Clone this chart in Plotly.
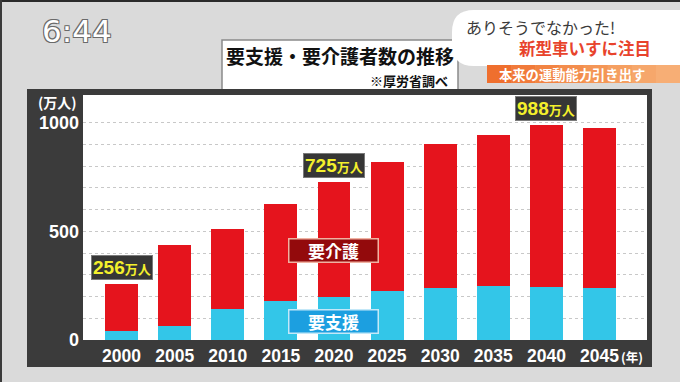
import plotly.graph_objects as go

# ---------------- data ----------------
years = [2000, 2005, 2010, 2015, 2020, 2025, 2030, 2035, 2040, 2045]
shien = [40, 64, 143, 181, 196, 225, 239, 250, 245, 239]          # 要支援
total = [256, 439, 509, 626, 725, 818, 902, 945, 988, 976]         # 合計
kaigo = [t - s for t, s in zip(total, shien)]                      # 要介護
labeled_years = [2000, 2020, 2040]
labeled_totals = [256, 725, 988]
y_gridvals = list(range(0, 1001, 100))
y_labelvals = [0, 500, 1000]

# ---------------- helpers ----------------
W, H = 680, 382
def px(x):
    return x / W
def py(y):
    return 1 - y / H

JP = "Noto Sans CJK JP"
NUM = "Liberation Sans, Noto Sans CJK JP"

fig = go.Figure()
fig.add_trace(go.Bar(x=years, y=shien, width=3.1, marker=dict(color="#33c6e8", line=dict(width=0)), name="要支援"))
fig.add_trace(go.Bar(x=years, y=kaigo, width=3.1, marker=dict(color="#e5141d", line=dict(width=0)), name="要介護"))

shapes = []
# TV border lines
shapes.append(dict(type="rect", xref="paper", yref="paper", x0=0, x1=1, y0=py(2), y1=1, fillcolor="#2a2a2a", line=dict(width=0), layer="below"))
shapes.append(dict(type="rect", xref="paper", yref="paper", x0=0, x1=px(2), y0=0, y1=1, fillcolor="#3a3a3a", line=dict(width=0), layer="below"))
# title box
shapes.append(dict(type="rect", xref="paper", yref="paper", x0=px(222), x1=px(458), y0=py(91), y1=py(40), fillcolor="white", line=dict(color="#8a8a8a", width=1.5), layer="below"))
# chart frame
shapes.append(dict(type="rect", xref="paper", yref="paper", x0=px(27), x1=px(652), y0=py(367), y1=py(89), fillcolor="#3b3b3b", line=dict(width=0), layer="below"))
shapes.append(dict(type="rect", xref="paper", yref="paper", x0=px(83), x1=px(647), y0=py(340), y1=py(95), fillcolor="white", line=dict(width=0), layer="below"))
# top-right white bubble (rounded left side)
r = 22
x0b, x1b, y0b, y1b = 452, 684, 10, 66
path = (f"M {px(x0b + r)},{py(y0b)} L {px(x1b)},{py(y0b)} L {px(x1b)},{py(y1b)} L {px(x0b + r)},{py(y1b)} "
        f"Q {px(x0b)},{py(y1b)} {px(x0b)},{py(y1b - r)} L {px(x0b)},{py(y0b + r)} "
        f"Q {px(x0b)},{py(y0b)} {px(x0b + r)},{py(y0b)} Z")
shapes.append(dict(type="path", xref="paper", yref="paper", path=path, fillcolor="white", line=dict(width=0), layer="below"))
# orange strip with simple stepwise gradient
oranges = ["#ef6f2e", "#f17a3a", "#f28443", "#f38d4d", "#f49656", "#f59f61", "#f6a76b", "#f7ae75"]
seg = (680 - 487) / len(oranges)
for i, c in enumerate(oranges):
    shapes.append(dict(type="rect", xref="paper", yref="paper", x0=px(487 + i * seg), x1=px(487 + (i + 1) * seg + 0.5),
                       y0=py(83), y1=py(65), fillcolor=c, line=dict(width=0), layer="below"))

annotations = []
def note(text, x, y, xanchor="center", yanchor="middle", **kw):
    d = dict(text=text, x=px(x), y=py(y), xref="paper", yref="paper", xanchor=xanchor, yanchor=yanchor, showarrow=False)
    d.update(kw)
    annotations.append(d)

# clock
note("6:44", 77, 31, font=dict(family="DejaVu Sans", size=31, color="white",
                               shadow="1px 1px 0 #6a6a6a, -1px -1px 0 #6a6a6a, 1px -1px 0 #6a6a6a, -1px 1px 0 #6a6a6a"))
# title
note("要支援・要介護者数の推移", 340, 55, font=dict(family=JP, size=19, color="#111111", weight="bold"))
note("※厚労省調べ", 450, 80.5, xanchor="right", font=dict(family=JP, size=13, color="#111111", weight="bold"))
# top-right texts
note("ありそうでなかった!", 464, 27, xanchor="left", font=dict(family=JP, size=16, color="#3a3a3a"))
note("新型車いすに注目", 653, 48, xanchor="right", font=dict(family=JP, size=16.5, color="#e8432c", weight="bold"))
note("本来の運動能力引き出す", 497, 74, xanchor="left", font=dict(family=JP, size=13.3, color="white", weight="bold"))
# axis unit labels
note("(万人)", 79, 102, xanchor="right", font=dict(family=JP, size=14, color="white", weight="bold"))
note("(年)", 619, 356, xanchor="left", font=dict(family=JP, size=12.5, color="white", weight="bold"))
# series labels
note("要介護", 333, 250, width=88, height=22, bgcolor="#930a0c", bordercolor="#f0b2a2", borderwidth=1.5, borderpad=0,
     font=dict(family=JP, size=17, color="white", weight="bold"))
note("要支援", 333, 321, width=88, height=22, bgcolor="#1c9fe0", bordercolor="#c4e8f8", borderwidth=1.5, borderpad=0,
     font=dict(family=JP, size=17, color="white", weight="bold"))
# value labels (anchored to the data)
for yr, t in zip(labeled_years, labeled_totals):
    annotations.append(dict(text=f"{t}<span style='font-size:13px'>万人</span>", x=yr, y=t, xref="x", yref="y",
                            xanchor="center", yanchor="bottom", yshift=4, showarrow=False, bgcolor="#363636",
                            bordercolor="#7a7a7a", borderwidth=1, borderpad=1,
                            font=dict(family=NUM, size=19, color="#f4f02c", weight="bold")))

fig.update_layout(
    width=W, height=H, margin=dict(l=0, r=0, t=0, b=0), autosize=False,
    paper_bgcolor="#dadada", plot_bgcolor="white",
    barmode="stack", bargap=0, showlegend=False, hovermode=False,
    shapes=shapes, annotations=annotations,
    xaxis=dict(domain=[px(83), px(647)], range=[1996.37, 2049.47], tickvals=years, ticktext=[str(y) for y in years],
               showgrid=False, zeroline=False, showline=False, ticks="", ticklabelstandoff=3, automargin=False,
               tickfont=dict(family=NUM, size=17.5, color="white", weight="bold")),
    yaxis=dict(domain=[py(340), py(95)], range=[0, 1127], tickvals=y_gridvals,
               ticktext=[str(v) if v in y_labelvals else "" for v in y_gridvals],
               showgrid=True, gridcolor="#c8c8c8", griddash="dot", gridwidth=1, automargin=False,
               zeroline=False, showline=False, ticks="", ticklabelstandoff=3,
               tickfont=dict(family=NUM, size=18, color="white", weight="bold")),
)

fig.write_html("out.html", config={"displayModeBar": False},
               post_script="document.body.style.margin='0';document.body.style.overflow='hidden';")
